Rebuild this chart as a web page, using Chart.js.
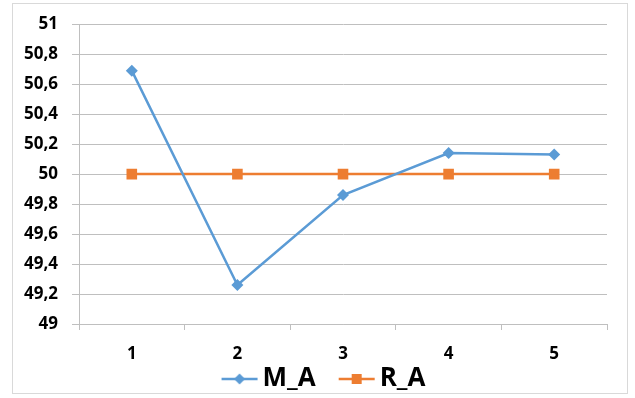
<!DOCTYPE html>
<html>
<head>
<meta charset="utf-8">
<script src="https://cdn.jsdelivr.net/npm/chart.js@4/dist/chart.umd.min.js"></script>
<style>
  html, body { margin: 0; padding: 0; background: #fff; }
  #wrap { position: relative; width: 635px; height: 398px; }
</style>
</head>
<body>
<div id="wrap"><canvas id="c" width="635" height="398"></canvas></div>
<script>
// Sample categories and the two measured series
const categories = ['1', '2', '3', '4', '5'];
const seriesMA = [50.69, 49.26, 49.86, 50.14, 50.13];
const seriesRA = [50, 50, 50, 50, 50];
const seriesNames = ['M_A', 'R_A'];

// Value axis range and step
const yMin = 49;
const yMax = 51;
const yStep = 0.2;

const BLUE = '#5B9BD5';
const ORANGE = '#ED7D31';
const GRID = '#BFBFBF';
const FONT = '"Open Sans", "Liberation Sans", sans-serif';

// Legend box geometry: the swatch image is wider than the legend box so the
// line sits close to its label, with extra room before each item
const LEG_BOX = 46;
const SW_W = 64;
const SW_LINE_X = 27;

// Legend swatch: short line with the series marker in the middle
function swatch(color, shape) {
  const cv = document.createElement('canvas');
  cv.width = SW_W; cv.height = 14;
  const g = cv.getContext('2d');
  g.strokeStyle = color; g.lineWidth = 2.5;
  g.beginPath(); g.moveTo(SW_LINE_X, 7); g.lineTo(SW_LINE_X + 36, 7); g.stroke();
  g.fillStyle = color;
  const cx = SW_LINE_X + 18;
  g.beginPath();
  if (shape === 'diamond') {
    g.moveTo(cx, 1.5); g.lineTo(cx + 5.5, 7); g.lineTo(cx, 12.5); g.lineTo(cx - 5.5, 7);
  } else {
    g.rect(cx - 5, 2, 10, 10);
  }
  g.closePath(); g.fill();
  return cv;
}
const swatches = [swatch(BLUE, 'diamond'), swatch(ORANGE, 'square')];

// Light frame around the whole chart
const framePlugin = {
  id: 'frame',
  beforeDraw(chart) {
    const ctx = chart.ctx;
    ctx.save();
    ctx.strokeStyle = '#D9D9D9';
    ctx.lineWidth = 1;
    ctx.strokeRect(12.5, 3.5, 615, 390);
    ctx.restore();
  }
};

const fmt = v => String(Math.round(v * 10) / 10).replace('.', ',');

const PAD_LEFT = 22;

new Chart(document.getElementById('c'), {
  type: 'line',
  data: {
    labels: categories,
    datasets: [
      {
        label: seriesNames[0],
        data: seriesMA,
        borderColor: BLUE,
        backgroundColor: BLUE,
        borderWidth: 2.5,
        pointStyle: 'rectRot',
        pointRadius: 6,
        pointHoverRadius: 6,
        pointBorderWidth: 0,
        tension: 0
      },
      {
        label: seriesNames[1],
        data: seriesRA,
        borderColor: ORANGE,
        backgroundColor: ORANGE,
        borderWidth: 2.5,
        pointStyle: 'rect',
        pointRadius: 7.5,
        pointHoverRadius: 7.5,
        pointBorderWidth: 0,
        tension: 0
      }
    ]
  },
  options: {
    responsive: false,
    animation: false,
    devicePixelRatio: 1,
    layout: { padding: { left: PAD_LEFT, right: 28, top: 24, bottom: -4 } },
    plugins: {
      tooltip: { enabled: false },
      legend: {
        position: 'bottom',
        labels: {
          usePointStyle: true,
          pointStyleWidth: LEG_BOX,
          boxHeight: 14,
          padding: 5,
          color: '#000',
          font: { family: FONT, size: 26, weight: 'bold', lineHeight: 1 },
          generateLabels(chart) {
            return chart.data.datasets.map((ds, i) => ({
              text: ds.label,
              fillStyle: ds.borderColor,
              strokeStyle: ds.borderColor,
              lineWidth: 0,
              pointStyle: swatches[i],
              datasetIndex: i,
              hidden: false
            }));
          }
        }
      }
    },
    scales: {
      x: {
        offset: true,
        afterFit(scale) { scale.height = 37; },
        grid: { offset: true, drawOnChartArea: false, drawTicks: true, tickLength: 6, color: GRID },
        border: { display: true, color: GRID, width: 1 },
        ticks: { color: '#000', padding: 14, font: { family: FONT, size: 17, weight: 'bold' } }
      },
      y: {
        min: yMin,
        max: yMax,
        afterFit(scale) { scale.width = 79 - PAD_LEFT; },
        grid: { color: GRID, lineWidth: 1, tickLength: 7 },
        border: { display: true, color: GRID, width: 1 },
        ticks: {
          stepSize: yStep,
          color: '#000',
          padding: 14,
          font: { family: FONT, size: 17, weight: 'bold' },
          callback: v => fmt(v)
        }
      }
    }
  },
  plugins: [framePlugin]
});
</script>
</body>
</html>
